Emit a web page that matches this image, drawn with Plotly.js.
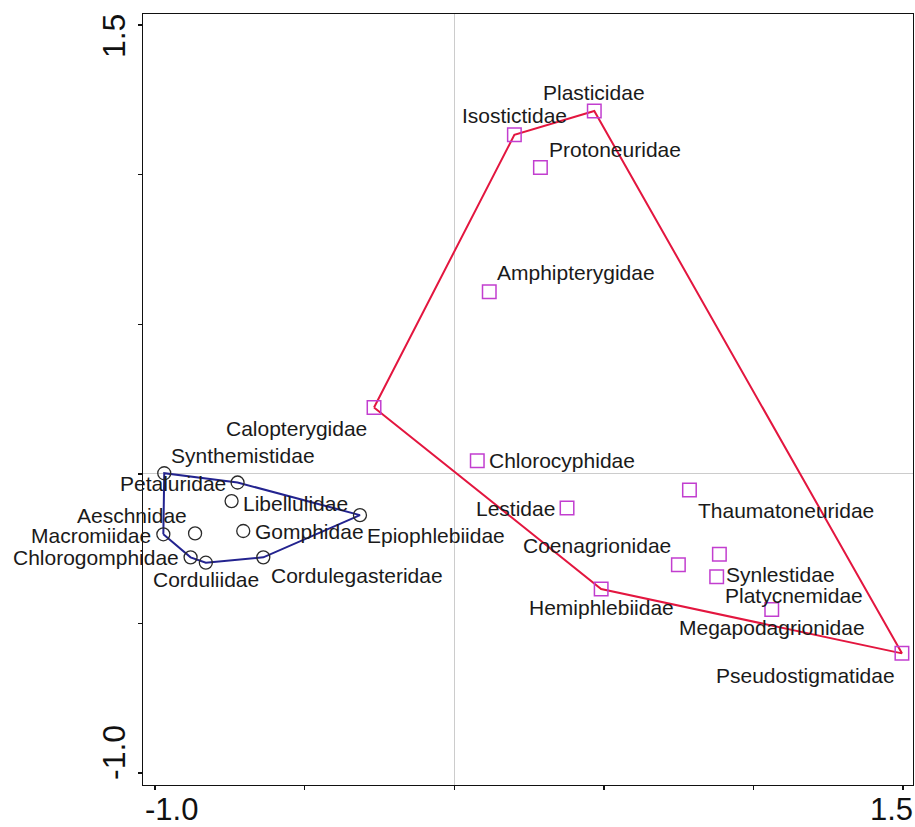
<!DOCTYPE html>
<html>
<head>
<meta charset="utf-8">
<script src="https://cdn.plot.ly/plotly-3.0.1.min.js"></script>
<style>html,body{margin:0;padding:0;background:#fff;}#chart{width:915px;height:827px;}</style>
</head>
<body>
<div id="chart"></div>
<script>
// ---- data ----
const blueNames = ['Synthemistidae','Petaluridae','Libellulidae','Epiophlebiidae','Macromiidae','Aeschnidae','Gomphidae','Chlorogomphidae','Corduliidae','Cordulegasteridae'];
const blueX = [-0.969,-0.724,-0.744,-0.315,-0.972,-0.866,-0.705,-0.881,-0.830,-0.638];
const blueY = [0.002,-0.029,-0.091,-0.138,-0.202,-0.199,-0.191,-0.279,-0.297,-0.279];

const redNames = ['Plasticidae','Isostictidae','Protoneuridae','Amphipterygidae','Calopterygidae','Chlorocyphidae','Lestidae','Thaumatoneuridae','Coenagrionidae','Synlestidae','Platycnemidae','Hemiphlebiidae','Megapodagrionidae','Pseudostigmatidae'];
const redX = [0.468,0.201,0.288,0.117,-0.268,0.077,0.377,0.786,0.749,0.886,0.877,0.491,1.061,1.496];
const redY = [1.213,1.133,1.024,0.609,0.222,0.044,-0.114,-0.054,-0.304,-0.269,-0.344,-0.385,-0.453,-0.600];

const xTickVals = [-1.0,-0.5,0,0.5,1.0,1.5];
const xTickText = ['-1.0','','','','','1.5'];
const yTickVals = [-1.0,-0.5,0,0.5,1.0,1.5];
const yTickText = ['-1.0','','','','','1.5'];

// ---- label styles: [anchor, dx px, dy px (down +)] ----
const blueLabelStyle = [['left',7,-18],['right',-12,1],['left',11,2],['left',7,20],['right',-12,1],['right',-8,-18],['left',12,1],['right',-12,0],['center',0,17],['left',8,18]];
const redLabelStyle = [['center',0,-18],['center',0,-19],['left',9,-18],['left',8,-19],['right',-7,21],['left',12,0],['right',-12,1],['left',9,20],['right',-7,-19],['left',7,20],['left',8,19],['center',0,18],['center',0,18],['right',-7,22]];
const xTickShift = [17,0,0,0,0,-12];
const yTickShift = [20,0,0,0,0,-11];

// convex hull (monotone chain) of a point set
function hull(xs, ys){
  const p = xs.map((x,i)=>[x,ys[i]]).sort((a,b)=>a[0]-b[0]||a[1]-b[1]);
  const cr=(o,a,b)=>(a[0]-o[0])*(b[1]-o[1])-(a[1]-o[1])*(b[0]-o[0]);
  const lo=[],up=[];
  for(const q of p){while(lo.length>=2&&cr(lo[lo.length-2],lo[lo.length-1],q)<=0)lo.pop();lo.push(q);}
  for(const q of p.slice().reverse()){while(up.length>=2&&cr(up[up.length-2],up[up.length-1],q)<=0)up.pop();up.push(q);}
  const h=lo.slice(0,-1).concat(up.slice(0,-1)); h.push(h[0]);
  return {x:h.map(q=>q[0]), y:h.map(q=>q[1])};
}
const bh = hull(blueX, blueY), rh = hull(redX, redY);

const FONT = 'Liberation Sans, Arial, Helvetica, sans-serif';
const traces = [
  {x:bh.x, y:bh.y, mode:'lines', line:{color:'#23238f', width:2}, hoverinfo:'skip'},
  {x:rh.x, y:rh.y, mode:'lines', line:{color:'#e3163f', width:2}, hoverinfo:'skip'},
  {x:blueX, y:blueY, text:blueNames, mode:'markers', marker:{symbol:'circle-open', size:13, color:'#2a2a2a', line:{width:1.3}}},
  {x:redX, y:redY, text:redNames, mode:'markers', marker:{symbol:'square-open', size:13.5, color:'#c23ecf', line:{width:1.5}}}
];

const ann = [];
function addLabels(names, xs, ys, st){
  names.forEach((n,i)=>{
    ann.push({text:n, x:xs[i], y:ys[i], xref:'x', yref:'y', showarrow:false,
      xanchor:st[i][0], yanchor:'middle', xshift:st[i][1], yshift:-st[i][2],
      borderpad:0, borderwidth:0, font:{family:FONT, size:21, color:'#1a1a1a'}});
  });
}
addLabels(blueNames, blueX, blueY, blueLabelStyle);
addLabels(redNames, redX, redY, redLabelStyle);
xTickVals.forEach((v,i)=>{ if(xTickText[i]) ann.push({text:xTickText[i], x:v, xref:'x', y:0, yref:'paper', showarrow:false,
  xanchor:'center', yanchor:'top', xshift:xTickShift[i], yshift:-7, borderpad:0, borderwidth:0,
  font:{family:FONT, size:31, color:'#111'}}); });
yTickVals.forEach((v,i)=>{ if(yTickText[i]) ann.push({text:yTickText[i], y:v, yref:'y', x:0, xref:'paper', showarrow:false,
  xanchor:'right', yanchor:'middle', xshift:-11, yshift:yTickShift[i], textangle:-90, borderpad:0, borderwidth:0,
  font:{family:FONT, size:32, color:'#111'}}); });

const axisCommon = {showgrid:false, zeroline:true, zerolinecolor:'#cccccc', zerolinewidth:1,
  showline:true, mirror:true, linecolor:'#111', linewidth:1.3, ticks:'outside', ticklen:4, tickwidth:1.3,
  tickcolor:'#111', showticklabels:false, tickmode:'array', fixedrange:true};

const layout = {
  width:915, height:827, showlegend:false,
  paper_bgcolor:'#ffffff', plot_bgcolor:'#ffffff',
  margin:{l:143, r:2, t:14, b:42, pad:0},
  xaxis:Object.assign({}, axisCommon, {range:[-1.040,1.533], tickvals:xTickVals, ticktext:xTickText}),
  yaxis:Object.assign({}, axisCommon, {range:[-1.040,1.537], tickvals:yTickVals, ticktext:yTickText}),
  annotations:ann,
  font:{family:FONT}
};
Plotly.newPlot('chart', traces, layout, {displayModeBar:false, staticPlot:true});
</script>
</body>
</html>
